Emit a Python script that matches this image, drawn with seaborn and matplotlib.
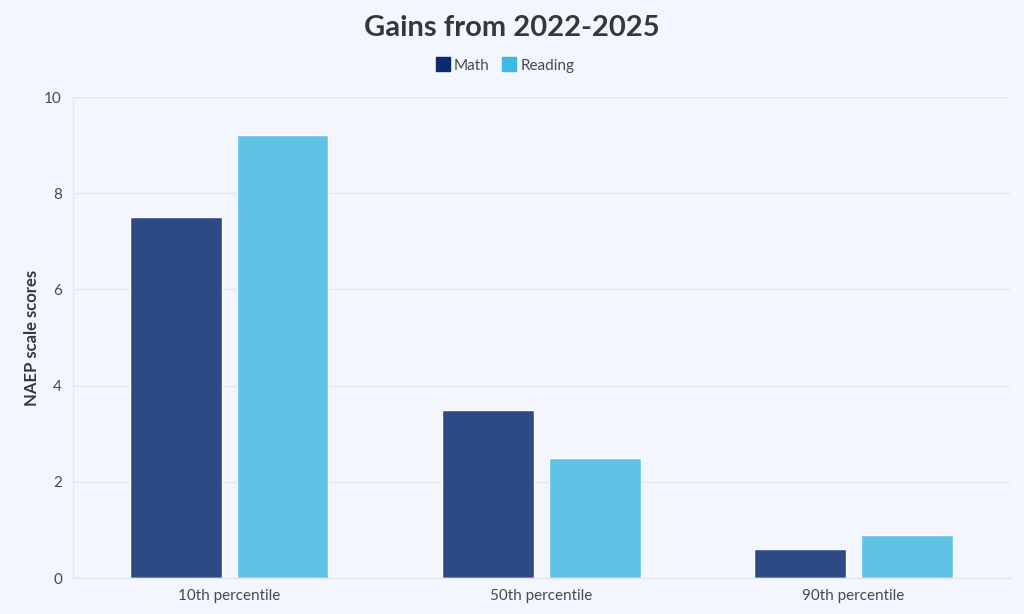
import matplotlib
matplotlib.use("Agg")
import matplotlib.pyplot as plt
import seaborn as sns
import pandas as pd
from matplotlib.lines import Line2D

categories = ["10th percentile", "50th percentile", "90th percentile"]
series = ["Math", "Reading"]
math_vals = [7.5, 3.5, 0.6]
reading_vals = [9.2, 2.5, 0.9]
yticks = [0, 2, 4, 6, 8, 10]

df = pd.DataFrame({
    "category": categories * 2,
    "series": ["Math"] * 3 + ["Reading"] * 3,
    "value": math_vals + reading_vals,
})

bg = "#f3f6fc"
sns.set_theme(style="white")
plt.rcParams["font.family"] = ["Lato", "DejaVu Sans"]

fig = plt.figure(figsize=(10.24, 6.14), dpi=100, facecolor=bg)
ax = fig.add_axes([0.0713, 0.0586, 0.9147, 0.7834], facecolor=bg)

palette = {"Math": "#2e4a85", "Reading": "#60c2e6"}
sns.barplot(data=df, x="category", y="value", hue="series", palette=palette,
            width=0.684, gap=0.14, ax=ax, legend=False, saturation=1)

ax.set_xlim(-0.5, 2.5)
ax.set_ylim(0, 10)
ax.set_yticks(yticks)
ax.yaxis.grid(True, color="#e4e7ee", linewidth=1)
ax.set_axisbelow(True)
for s in ["top", "right"]:
    ax.spines[s].set_visible(False)
for s in ["left", "bottom"]:
    ax.spines[s].set_color("#e4e7ee")
    ax.spines[s].set_linewidth(1)
ax.tick_params(axis="x", length=4, color="#e4e7ee", colors="#444a55", labelsize=11, pad=4)
ax.tick_params(axis="y", length=0, colors="#444a55", labelsize=11, pad=8)
ax.set_xlabel("")
ax.set_ylabel("NAEP scale scores", fontsize=12, fontweight="bold", color="#333842", labelpad=3)

fig.text(0.5, 0.955, "Gains from 2022-2025", ha="center", va="center",
         fontsize=21, fontweight="bold", color="#35373d")

handles = [Line2D([0], [0], marker="s", linestyle="", markersize=9.5,
                  markerfacecolor=c, markeredgecolor=c)
           for c in ["#0d2a6b", "#3eb9e5"]]
fig.legend(handles, series, loc="center", bbox_to_anchor=(0.493, 0.893), ncol=2,
           frameon=False, fontsize=11, handletextpad=0.2, columnspacing=0.8,
           labelcolor="#444a55", handlelength=1.0)

fig.savefig("out.png", dpi=100, facecolor=bg)
